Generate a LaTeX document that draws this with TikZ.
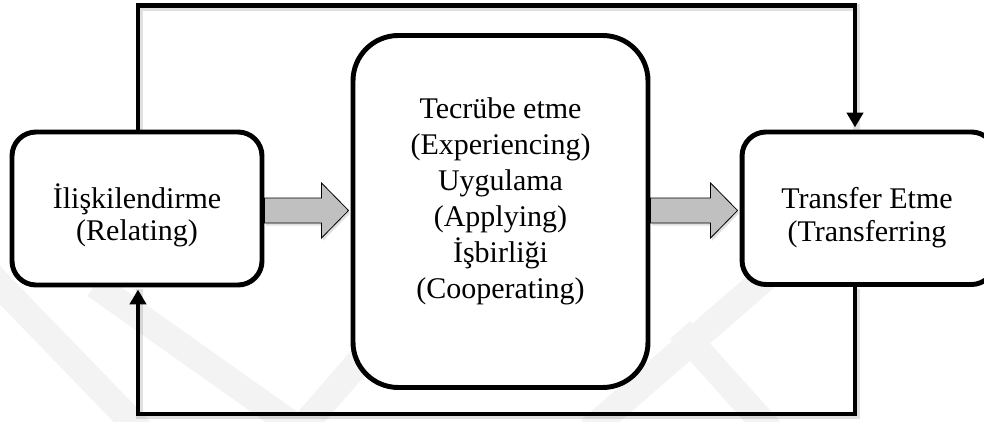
\documentclass[tikz,border=0pt]{standalone}
\usepackage{fontspec}
\setmainfont{Liberation Serif}
\usetikzlibrary{arrows.meta,calc}
\pgfdeclarelayer{mark}
\pgfdeclarelayer{back}
\pgfsetlayers{mark,back,main}
\definecolor{arrowgray}{HTML}{C0C0C0}
\definecolor{markgray}{HTML}{F3F3F3}

% gray block arrow from #1 to the tip #2 (both on one horizontal line)
\newcommand{\flowarrow}[2]{%
  \path[blockshadow] ($(#1)+(0,-12.5)$) -- ($(#2)+(-27,-12.5)$) -- ($(#2)+(-27,-27.5)$)
    -- (#2) -- ($(#2)+(-27,27.5)$) -- ($(#2)+(-27,12.5)$) -- ($(#1)+(0,12.5)$) -- cycle;
  \path[blockarrow] ($(#1)+(0,-12.5)$) -- ($(#2)+(-27,-12.5)$) -- ($(#2)+(-27,-27.5)$)
    -- (#2) -- ($(#2)+(-27,27.5)$) -- ($(#2)+(-27,12.5)$) -- ($(#1)+(0,12.5)$) -- cycle;
}

\begin{document}
\begin{tikzpicture}[x=0.75pt,y=-0.75pt,
  box/.style={draw=black, line width=3.7pt, fill=white, rounded corners=18pt, inner sep=0pt},
  lbl/.style={align=center, font=\fontsize{22.5}{24.3}\selectfont, inner sep=0pt},
  conn/.style={draw=black, line width=3.7pt, line join=miter,
    -{Triangle[width=12pt,length=11pt]}, shorten >=1.6pt},
  connshadow/.style={draw=black, opacity=0.12, line width=5pt,
    transform canvas={xshift=1.2pt, yshift=-1.5pt}},
  blockarrow/.style={fill=arrowgray, draw=black, line width=0.6pt, line join=miter},
  blockshadow/.style={fill=black, opacity=0.12, transform canvas={xshift=1.2pt, yshift=-2pt}},
  band/.style={draw=markgray, line width=20pt, line cap=butt},
]
\useasboundingbox (0,0) rectangle (984,421);

% faint background chevrons
\begin{pgfonlayer}{mark}
  \draw[band] (-10,275) -- (140,430);
  \draw[band] (95,285) -- (300,430);
  \draw[band] (300,430) -- (430,280);
  \draw[band] (590,430) -- (780,265);
  \draw[band] (680,330) -- (770,430);
\end{pgfonlayer}

% the three stages
\node[box, minimum width=187.5pt, minimum height=114.75pt] (rel) at (137,208.5) {};
\node[box, minimum width=221.25pt, minimum height=264pt, rounded corners=34pt] (mid) at (500.5,211.5) {};
\node[box, minimum width=190pt, minimum height=114.4pt] (tra) at (868.7,208.25) {};

\node[lbl] (relt) at (137,215.3) {İlişkilendirme\\(Relating)};
\node[lbl, font=\fontsize{22.5}{27}\selectfont] (midt) at (500.5,201.2)
  {Tecrübe etme\\(Experiencing)\\Uygulama\\(Applying)\\İşbirliği\\(Cooperating)};
\node[lbl] (trat) at (867,217.6) {Transfer Etme\\(Transferring};

% flow arrows between the stages
\coordinate (a1s) at (rel.east |- 0,210.5);
\coordinate (a1e) at ($(mid.west |- 0,210.5)+(-2,0)$);
\coordinate (a2s) at (mid.east |- 0,210.5);
\coordinate (a2e) at ($(tra.west |- 0,210.5)+(-2,0)$);
\begin{pgfonlayer}{back}
  \flowarrow{a1s}{a1e}
  \flowarrow{a2s}{a2e}
\end{pgfonlayer}

% feedback loops
\coordinate (tl) at (138,5.5);
\coordinate (tr) at (855,5.5);
\coordinate (bl) at (138,414);
\coordinate (br) at (855,414);
\begin{pgfonlayer}{back}
  \draw[connshadow] (rel.north -| tl) -- (tl) -- (tr) -- (tra.north -| tr);
  \draw[connshadow] (tra.south -| br) -- (br) -- (bl) -- (rel.south -| bl);
\end{pgfonlayer}
\draw[conn] (rel.north -| tl) -- (tl) -- (tr) -- (tra.north -| tr);
\draw[conn] (tra.south -| br) -- (br) -- (bl) -- (rel.south -| bl);
\end{tikzpicture}
\end{document}
